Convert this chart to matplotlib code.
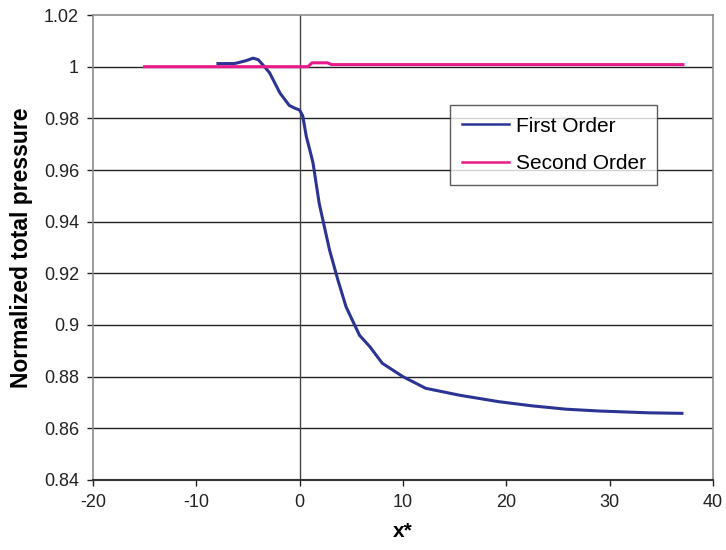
import matplotlib
matplotlib.use("Agg")
import matplotlib.pyplot as plt

plt.rcParams['font.family'] = ['Liberation Sans', 'DejaVu Sans']
plt.rcParams['axes.unicode_minus'] = False

# values
first_x = [-7.9, -6.3, -5.2, -4.5, -4.0, -3.4, -2.9, -1.9, -1.0, -0.5, 0.0, 0.3,
           0.65, 1.1, 1.3, 1.9, 2.4, 2.9, 3.7, 4.5, 5.8, 6.8, 8.0, 10.0, 12.2,
           15.5, 19.3, 22.5, 25.8, 29.0, 33.8, 37.0]
first_y = [1.0012, 1.0012, 1.0023, 1.0033, 1.0027, 1.0, 0.9976, 0.9898, 0.985,
           0.984, 0.9832, 0.981, 0.973, 0.966, 0.9627, 0.947, 0.938, 0.929,
           0.9175, 0.907, 0.896, 0.8916, 0.8852, 0.880, 0.8755, 0.8728, 0.8703,
           0.8687, 0.8674, 0.8667, 0.866, 0.8658]

second_x = [-15.0, 0.8, 1.2, 2.7, 3.1, 37.1]
second_y = [1.0, 1.0, 1.0015, 1.0015, 1.0008, 1.0008]

x_ticks = [-20, -10, 0, 10, 20, 30, 40]
y_ticks = [0.84, 0.86, 0.88, 0.9, 0.92, 0.94, 0.96, 0.98, 1.0, 1.02]
y_tick_labels = ["0.84", "0.86", "0.88", "0.9", "0.92", "0.94", "0.96", "0.98", "1", "1.02"]

fig = plt.figure(figsize=(7.26, 5.5), dpi=100)
ax = fig.add_axes([0.128, 0.1273, 0.854, 0.8454])

# horizontal gridlines and the y axis crossing at x = 0
for yv in y_ticks[1:-1]:
    ax.axhline(yv, color='#222222', lw=1.0, zorder=1)
ax.axvline(0, color='#444444', lw=1.0, zorder=1)

ax.plot(first_x, first_y, color='#2b3492', lw=2.2, label='First Order', zorder=3)
ax.plot(second_x, second_y, color='#e8198b', lw=2.2, label='Second Order', zorder=4)

ax.set_xlim(-20, 40)
ax.set_ylim(0.84, 1.02)
ax.set_xticks(x_ticks)
ax.set_yticks(y_ticks)
ax.set_yticklabels(y_tick_labels)
ax.tick_params(axis='both', direction='out', length=4, width=1, labelsize=13,
               colors='#222222', pad=6)

for side in ['top', 'left', 'right']:
    ax.spines[side].set_color('#8c8c8c')
    ax.spines[side].set_linewidth(1.2)
ax.spines['bottom'].set_color('#333333')
ax.spines['bottom'].set_linewidth(1.5)

ax.set_xlabel('x*', fontsize=15, fontweight='bold', labelpad=8)
ax.set_ylabel('Normalized total pressure', fontsize=16.5, fontweight='bold', labelpad=8)

leg = ax.legend(loc='upper left', bbox_to_anchor=(0.576, 0.806), borderaxespad=0,
                fontsize=15, frameon=True, fancybox=False, handlelength=2.3,
                handletextpad=0.3, labelspacing=0.9, borderpad=0.55)
leg.get_frame().set_edgecolor('#333333')
leg.get_frame().set_linewidth(1.0)
for line in leg.get_lines():
    line.set_linewidth(1.8)

fig.savefig('out.png', dpi=100)
